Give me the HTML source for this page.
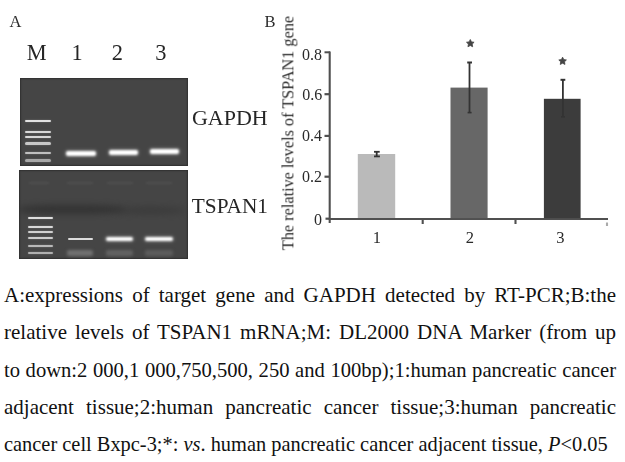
<!DOCTYPE html>
<html><head><meta charset="utf-8">
<style>
html,body{margin:0;padding:0;background:#fff;}
body{width:625px;height:462px;position:relative;overflow:hidden;font-family:"Liberation Serif",serif;color:#333;}
.t{position:absolute;white-space:nowrap;line-height:1;}
.gel{position:absolute;background:#454545;box-shadow:inset 0 0 1.5px 1px #303030;overflow:hidden;}
.b{position:absolute;border-radius:2px;}
#cap .ln{position:absolute;left:4px;width:612px;font-size:20.4px;line-height:37.3px;height:37.3px;text-align:justify;text-align-last:justify;white-space:nowrap;color:#111;}
#cap .last{text-align-last:left;}
</style></head><body>

<div class="t" style="left:9.5px;top:13.9px;font-size:16.5px;color:#2c2c2c;filter:blur(0.3px);">A</div>
<div class="t" style="left:16.7px;top:41.6px;width:40px;text-align:center;font-size:22.4px;color:#262626;filter:blur(0.3px);">M</div>
<div class="t" style="left:57px;top:41.6px;width:40px;text-align:center;font-size:22.4px;color:#262626;filter:blur(0.3px);">1</div>
<div class="t" style="left:97.3px;top:41.6px;width:40px;text-align:center;font-size:22.4px;color:#262626;filter:blur(0.3px);">2</div>
<div class="t" style="left:140.8px;top:41.6px;width:40px;text-align:center;font-size:22.4px;color:#262626;filter:blur(0.3px);">3</div>

<div class="gel" style="left:19.6px;top:78px;width:168px;height:88.3px;">
  <div class="b" style="left:5.4px;top:41.6px;width:26.5px;height:2.4px;background:#e2e2e2;filter:blur(0.6px);box-shadow:0 0 2px rgba(255,255,255,.25)"></div>
  <div class="b" style="left:5.4px;top:52.7px;width:26.5px;height:2.4px;background:#d8d8d8;filter:blur(0.6px);box-shadow:0 0 2px rgba(255,255,255,.25)"></div>
  <div class="b" style="left:5.4px;top:57.6px;width:26.5px;height:2.4px;background:#d8d8d8;filter:blur(0.6px);box-shadow:0 0 2px rgba(255,255,255,.25)"></div>
  <div class="b" style="left:5.4px;top:64.2px;width:26.5px;height:2.4px;background:#c8c8c8;filter:blur(0.6px);box-shadow:0 0 2px rgba(255,255,255,.25)"></div>
  <div class="b" style="left:5.4px;top:73.8px;width:26.5px;height:2.4px;background:#c0c0c0;filter:blur(0.6px);box-shadow:0 0 2px rgba(255,255,255,.25)"></div>
  <div class="b" style="left:5.4px;top:81.4px;width:26.5px;height:2.4px;background:#a8a8a8;filter:blur(0.7px);box-shadow:0 0 2px rgba(255,255,255,.2)"></div>
  <div class="b" style="left:46.8px;top:72.8px;width:29.2px;height:5.2px;background:#fff;filter:blur(0.9px);box-shadow:0 0 3px 1px rgba(255,255,255,.25)"></div>
  <div class="b" style="left:89px;top:71.6px;width:29.2px;height:5.2px;background:#fff;filter:blur(0.9px);box-shadow:0 0 3px 1px rgba(255,255,255,.25)"></div>
  <div class="b" style="left:130.4px;top:70.5px;width:29.4px;height:5.2px;background:#fff;filter:blur(0.9px);box-shadow:0 0 3px 1px rgba(255,255,255,.25)"></div>
</div>

<div class="gel" style="left:19px;top:170px;width:169px;height:89px;">
  <div style="position:absolute;left:0px;top:35px;width:105px;height:9px;border-radius:40%;background:#2e2e2e;filter:blur(3px);opacity:.75"></div>
  <div style="position:absolute;left:95px;top:37px;width:72px;height:7px;border-radius:50%;background:#333;filter:blur(3px);opacity:.55"></div>
  <div style="position:absolute;left:10px;top:12px;width:20px;height:2px;background:#505050;filter:blur(1px)"></div>
  <div style="position:absolute;left:48px;top:12px;width:26px;height:2px;background:#505050;filter:blur(1px)"></div>
  <div style="position:absolute;left:88px;top:12px;width:26px;height:2px;background:#505050;filter:blur(1px)"></div>
  <div style="position:absolute;left:127px;top:12px;width:26px;height:2px;background:#505050;filter:blur(1px)"></div>
  <div class="b" style="left:8.5px;top:46.5px;width:25px;height:2.3px;background:#dedede;filter:blur(0.6px);box-shadow:0 0 2px rgba(255,255,255,.25)"></div>
  <div class="b" style="left:8.5px;top:56.2px;width:25px;height:2.3px;background:#d8d8d8;filter:blur(0.6px);box-shadow:0 0 2px rgba(255,255,255,.25)"></div>
  <div class="b" style="left:8.5px;top:60.7px;width:25px;height:2.3px;background:#d0d0d0;filter:blur(0.6px);box-shadow:0 0 2px rgba(255,255,255,.25)"></div>
  <div class="b" style="left:8.5px;top:66.6px;width:25px;height:2.3px;background:#cccccc;filter:blur(0.6px);box-shadow:0 0 2px rgba(255,255,255,.25)"></div>
  <div class="b" style="left:8.5px;top:74.8px;width:25px;height:2.3px;background:#b8b8b8;filter:blur(0.6px);box-shadow:0 0 2px rgba(255,255,255,.25)"></div>
  <div class="b" style="left:8.5px;top:82.0px;width:25px;height:2.3px;background:#b0b0b0;filter:blur(0.6px);box-shadow:0 0 2px rgba(255,255,255,.25)"></div>
  <div class="b" style="left:48.5px;top:67.6px;width:25.5px;height:2.6px;background:#dcdcdc;filter:blur(0.65px)"></div>
  <div class="b" style="left:87px;top:67px;width:27px;height:4.2px;background:#fff;filter:blur(0.9px);box-shadow:0 0 3px 1px rgba(255,255,255,.25)"></div>
  <div class="b" style="left:126px;top:67px;width:28px;height:4.2px;background:#fff;filter:blur(0.9px);box-shadow:0 0 3px 1px rgba(255,255,255,.25)"></div>
  <div class="b" style="left:48px;top:79.5px;width:26px;height:6px;background:#707070;filter:blur(1.6px)"></div>
  <div class="b" style="left:87px;top:79.5px;width:27px;height:6px;background:#626262;filter:blur(1.6px)"></div>
  <div class="b" style="left:126px;top:79.5px;width:28px;height:6px;background:#5c5c5c;filter:blur(1.6px)"></div>
</div>

<div class="t" style="left:191.9px;top:107.3px;font-size:22px;color:#262626;filter:blur(0.3px);">GAPDH</div>
<div class="t" style="left:191.8px;top:195.8px;font-size:21.3px;color:#262626;filter:blur(0.3px);">TSPAN1</div>

<div class="t" style="left:264.5px;top:13.7px;font-size:16.5px;color:#2c2c2c;filter:blur(0.3px);">B</div>

<svg style="position:absolute;left:0;top:0" width="625" height="462">
  <defs><filter id="bl" x="-10%" y="-10%" width="120%" height="120%"><feGaussianBlur stdDeviation="0.3"/></filter></defs>
  <g fill="none" stroke="#505050" stroke-width="2.1">
    <line x1="329.7" y1="51.5" x2="329.7" y2="223"/>
    <line x1="328.7" y1="219" x2="608" y2="219"/>
    <line x1="324.5" y1="52.3" x2="330" y2="52.3" stroke-width="2"/>
    <line x1="324.5" y1="94.2" x2="330" y2="94.2" stroke-width="2.2"/>
    <line x1="324.5" y1="135.9" x2="330" y2="135.9" stroke-width="2.2"/>
    <line x1="324.5" y1="176.7" x2="330" y2="176.7" stroke-width="2.2"/>
    <line x1="325.5" y1="218.7" x2="330" y2="218.7" stroke-width="2.2"/>
    <line x1="422.7" y1="219" x2="422.7" y2="224"/>
    <line x1="515.5" y1="219" x2="515.5" y2="224"/>
    <line x1="607" y1="222.5" x2="607" y2="226" stroke="#aaa"/>
  </g>
  <rect x="357.8" y="154" width="37.4" height="64" fill="#bababa"/>
  <rect x="450.5" y="87.6" width="37.1" height="130.5" fill="#676767"/>
  <rect x="543.9" y="98.8" width="36.7" height="119.3" fill="#3c3c3c"/>
  <g stroke="#333" stroke-width="1.8" fill="none">
    <line x1="376.7" y1="152" x2="376.7" y2="156.5"/>
    <line x1="374" y1="151.8" x2="379.7" y2="151.8"/>
    <line x1="374" y1="156.4" x2="379.9" y2="156.4"/>
    <line x1="469.5" y1="62.6" x2="469.5" y2="113"/>
    <line x1="467.2" y1="62.5" x2="472" y2="62.5" stroke-width="2"/>
    <line x1="467.6" y1="112.6" x2="471.6" y2="112.6" stroke-width="1.6"/>
    <line x1="562.9" y1="79.8" x2="562.9" y2="117"/>
    <line x1="560.5" y1="79.8" x2="565.3" y2="79.8" stroke-width="2"/>
    <line x1="561" y1="116.8" x2="565" y2="116.8" stroke-width="1.6"/>
  </g>
  <g font-family="Liberation Serif" font-size="16" fill="#2a2a2a" text-anchor="end" filter="url(#bl)">
    <text x="322" y="59.5">0.8</text>
    <text x="322.3" y="100">0.6</text>
    <text x="322" y="140.8">0.4</text>
    <text x="322" y="181.7">0.2</text>
    <text x="322" y="224.8">0</text>
  </g>
  <g font-family="Liberation Serif" font-size="16.5" fill="#2a2a2a" text-anchor="middle" filter="url(#bl)">
    <text x="376.8" y="242.8">1</text>
    <text x="469.9" y="243">2</text>
    <text x="560.4" y="243">3</text>
  </g>
  <g fill="#444" stroke="#444" stroke-width="0.8" stroke-linejoin="round" filter="url(#bl)">
    <polygon points="470.30,39.50 471.48,41.88 474.10,42.26 472.20,44.12 472.65,46.74 470.30,45.50 467.95,46.74 468.40,44.12 466.50,42.26 469.12,41.88"/>
    <polygon points="562.60,57.20 563.78,59.58 566.40,59.96 564.50,61.82 564.95,64.44 562.60,63.20 560.25,64.44 560.70,61.82 558.80,59.96 561.42,59.58"/>
  </g>
  <text transform="translate(293.4,250.2) rotate(-90)" font-family="Liberation Serif" font-size="16.25" fill="#2a2a2a" filter="url(#bl)">The relative levels of TSPAN1 gene</text>
</svg>

<div id="cap">
<div class="ln" style="top:276.8px;font-size:21px">A:expressions of target gene and GAPDH detected by RT-PCR;B:the</div>
<div class="ln" style="top:314.1px;font-size:21px">relative levels of TSPAN1 mRNA;M: DL2000 DNA Marker (from up</div>
<div class="ln" style="top:351.6px;font-size:20.6px">to down:2 000,1 000,750,500, 250 and 100bp);1:human pancreatic cancer</div>
<div class="ln" style="top:388.7px;font-size:21px">adjacent tissue;2:human pancreatic cancer tissue;3:human pancreatic</div>
<div class="ln last" style="top:426.2px">cancer cell Bxpc-3;*: <i>vs</i>. human pancreatic cancer adjacent tissue, <i>P</i>&lt;0.05</div>
</div>

</body></html>
